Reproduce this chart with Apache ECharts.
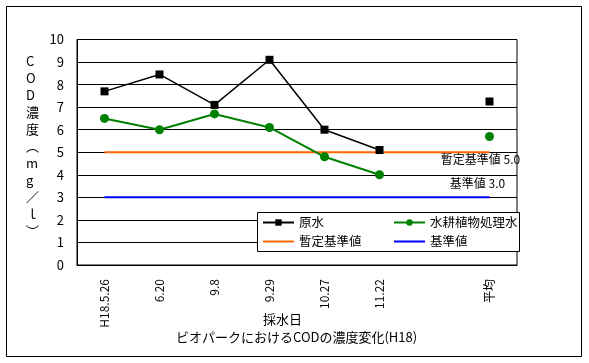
<!DOCTYPE html>
<html><head><meta charset="utf-8">
<script src="https://cdn.jsdelivr.net/npm/echarts@6/dist/echarts.min.js"></script>
<style>html,body{margin:0;padding:0;background:#fff}#c{width:589px;height:363px}</style>
</head><body><div id="c"></div>
<script>
var categories = ['H18.5.26', '6.20', '9.8', '9.29', '10.27', '11.22', '', '平均'];
var rawWater = [7.7, 8.45, 7.1, 9.1, 6.0, 5.1, '-', 7.25];
var treatedWater = [6.5, 6.0, 6.7, 6.1, 4.8, 4.0, '-', 5.7];
var provisionalStd = [5, 5, 5, 5, 5, 5, 5, 5];
var standard = [3, 3, 3, 3, 3, 3, 3, 3];
var yTicks = [0, 1, 2, 3, 4, 5, 6, 7, 8, 9, 10];

var FONT = '"Noto Sans CJK JP", sans-serif';
var chart = echarts.init(document.getElementById('c'), null, {renderer: 'canvas'});

var LINE_ICON = 'path://M0,0H31V2H0Z';

function legendCol(left, items) {
  return {
    left: left, top: 215, orient: 'vertical', z: 10,
    padding: 0, itemWidth: 31, itemHeight: 8, itemGap: 4,
    textStyle: {fontSize: 12.5, color: '#000', fontFamily: FONT, lineHeight: 15},
    data: items
  };
}

chart.setOption({
  animation: false,
  backgroundColor: '#fff',
  textStyle: {fontFamily: FONT},
  grid: {left: 77, right: 72, top: 39.5, bottom: 98, show: true, borderColor: '#000', borderWidth: 1},
  legend: [
    legendCol(262, [{name: '原水'}, {name: '暫定基準値', icon: LINE_ICON}]),
    legendCol(393, [{name: '水耕植物処理水'}, {name: '基準値', icon: LINE_ICON}])
  ],
  xAxis: {
    type: 'category', data: categories, boundaryGap: true,
    axisLine: {lineStyle: {color: '#000', width: 1}},
    axisTick: {inside: true, length: 4, lineStyle: {color: '#000'}},
    axisLabel: {rotate: 90, margin: 14, color: '#000', fontSize: 12, fontFamily: FONT, interval: 0},
    splitLine: {show: false}
  },
  yAxis: {
    type: 'value', min: 0, max: 10, interval: 1,
    axisLine: {show: true, lineStyle: {color: '#000', width: 1}},
    axisTick: {show: false},
    axisLabel: {margin: 13, color: '#000', fontSize: 13, fontFamily: FONT,
      formatter: function (v) { return yTicks.indexOf(v) >= 0 ? String(v) : ''; }},
    splitLine: {lineStyle: {color: '#000', width: 1}}
  },
  series: [
    {name: '原水', type: 'line', data: rawWater, symbol: 'rect', symbolSize: 8,
      itemStyle: {color: '#000'}, lineStyle: {color: '#000', width: 1.5}, connectNulls: false, z: 5},
    {name: '水耕植物処理水', type: 'line', data: treatedWater, symbol: 'circle', symbolSize: 9,
      itemStyle: {color: '#008000'}, lineStyle: {color: '#008000', width: 2}, connectNulls: false, z: 4},
    {name: '暫定基準値', type: 'line', data: provisionalStd,
      symbol: 'none', lineStyle: {color: '#FF6600', width: 2}, itemStyle: {color: '#FF6600'}, z: 3,
      markPoint: {symbol: 'circle', symbolSize: 0, silent: true,
        data: [{coord: [categories.length - 1, provisionalStd[provisionalStd.length - 1]], value: 5}],
        label: {show: true, formatter: '暫定基準値 5.0', position: 'bottom', distance: 1, offset: [-9, 0],
          color: '#000', fontSize: 12, fontFamily: FONT}}},
    {name: '基準値', type: 'line', data: standard,
      symbol: 'none', lineStyle: {color: '#0000FF', width: 2}, itemStyle: {color: '#0000FF'}, z: 3,
      markPoint: {symbol: 'circle', symbolSize: 0, silent: true,
        data: [{coord: [categories.length - 1, standard[standard.length - 1]], value: 3}],
        label: {show: true, formatter: '基準値 3.0', position: 'top', distance: 8, offset: [-12, 0],
          color: '#000', fontSize: 12, fontFamily: FONT}}}
  ],
  graphic: [
    {type: 'rect', z: 8, shape: {x: 257.5, y: 212.5, width: 262, height: 39}, style: {fill: '#fff', stroke: '#000', lineWidth: 1}, silent: true},
    {type: 'rect', shape: {x: 6.5, y: 6.5, width: 575, height: 350}, style: {fill: null, stroke: '#000', lineWidth: 1}, silent: true},
    {type: 'text', left: 26, top: 53, style: {text: 'C\nO\nD\n濃\n度\n︵\nm\ng\n／\nｌ\n︶', fontSize: 13, lineHeight: 17,
      fontFamily: FONT, fill: '#000', align: 'center', width: 16}},
    {type: 'text', left: 263, top: 313, style: {text: '採水日', fontSize: 13, fontFamily: FONT, fill: '#000'}},
    {type: 'text', left: 176, top: 331, style: {text: 'ビオパークにおけるCODの濃度変化(H18)', fontSize: 13, fontFamily: FONT, fill: '#000'}}
  ]
});
</script></body></html>
